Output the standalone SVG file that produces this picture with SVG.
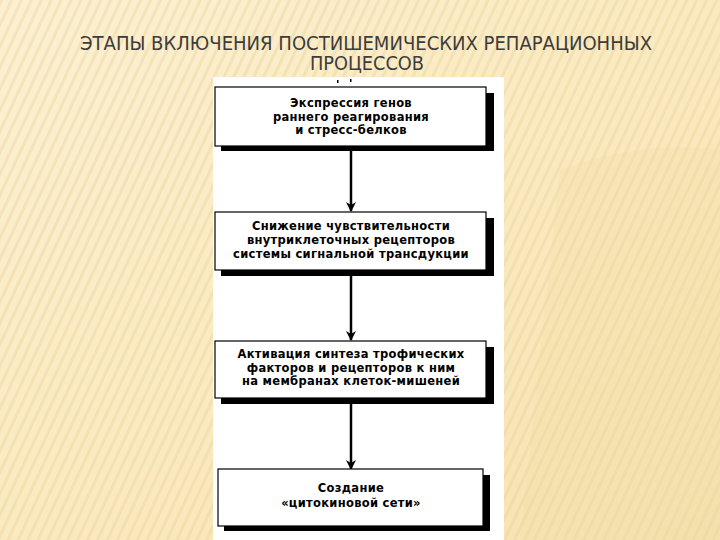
<svg xmlns="http://www.w3.org/2000/svg" width="720" height="540" viewBox="0 0 720 540">
<defs>
<linearGradient id="bg" x1="0" y1="0" x2="1" y2="1">
<stop offset="0" stop-color="#fcf0d2"/>
<stop offset="0.5" stop-color="#faeac0"/>
<stop offset="1" stop-color="#f6e2b0"/>
</linearGradient>
<pattern id="stripes" width="9" height="9" patternUnits="userSpaceOnUse" patternTransform="rotate(25)">
<rect width="9" height="9" fill="none"/>
<rect width="3" height="9" fill="#e8cf95" opacity="0.35"/>
</pattern>
<marker id="ah" viewBox="0 0 10 10" refX="9" refY="5" markerWidth="10" markerHeight="10" markerUnits="userSpaceOnUse" orient="auto">
<path d="M0,0 L10,5 L0,10 L3,5 Z" fill="#000"/>
</marker>
<style>
.box{fill:#fff;stroke:#000;stroke-width:1.2}
.sh{fill:#000}
.t{font-family:"DejaVu Sans","Liberation Sans",sans-serif;font-weight:bold;font-size:11.5px;letter-spacing:0.3px;fill:#000;text-anchor:middle}
.title{font-family:"DejaVu Sans Condensed","DejaVu Sans",sans-serif;font-size:19px;fill:#3c3c3c;text-anchor:middle}
.ar{stroke:#000;stroke-width:2.5;fill:none}
</style>
</defs>
<rect width="720" height="540" fill="url(#bg)"/>
<rect width="720" height="540" fill="url(#stripes)"/>
<path d="M560,170 Q640,140 720,150 L720,540 L520,540 Z" fill="#f0dba0" opacity="0.25"/>
<text class="title" x="366" y="50" textLength="572" lengthAdjust="spacingAndGlyphs">ЭТАПЫ ВКЛЮЧЕНИЯ ПОСТИШЕМИЧЕСКИХ РЕПАРАЦИОННЫХ</text>
<text class="title" x="367" y="70" textLength="114" lengthAdjust="spacingAndGlyphs">ПРОЦЕССОВ</text>
<rect x="213" y="77" width="291" height="463" fill="#fff"/>
<rect x="337" y="80" width="1.5" height="3" fill="#000"/>
<rect x="350" y="79" width="1.5" height="3" fill="#000"/>
<g id="connectors">
<line class="ar" x1="351" y1="150" x2="351" y2="211" marker-end="url(#ah)"/>
<line class="ar" x1="351" y1="274" x2="351" y2="340" marker-end="url(#ah)"/>
<line class="ar" x1="351" y1="402" x2="351" y2="469" marker-end="url(#ah)"/>
</g>
<g id="n1">
<rect class="sh" x="221" y="93" width="273" height="58"/>
<rect class="box" x="215" y="87" width="271" height="59"/>
<text class="t" x="351" y="107">Экспрессия генов</text>
<text class="t" x="351" y="120.5">раннего реагирования</text>
<text class="t" x="351" y="134">и стресс-белков</text>
</g>
<g id="n2">
<rect class="sh" x="221" y="218" width="273" height="58"/>
<rect class="box" x="215" y="212" width="271" height="58"/>
<text class="t" x="351" y="230">Снижение чувствительности</text>
<text class="t" x="351" y="244">внутриклеточных рецепторов</text>
<text class="t" x="351" y="258">системы сигнальной трансдукции</text>
</g>
<g id="n3">
<rect class="sh" x="221" y="347" width="273" height="57"/>
<rect class="box" x="215" y="341" width="271" height="57"/>
<text class="t" x="351" y="358">Активация синтеза трофических</text>
<text class="t" x="351" y="371.5">факторов и рецепторов к ним</text>
<text class="t" x="351" y="385">на мембранах клеток-мишеней</text>
</g>
<g id="n4">
<rect class="sh" x="224" y="475" width="266" height="56"/>
<rect class="box" x="218" y="469" width="265" height="57"/>
<text class="t" x="351" y="492">Создание</text>
<text class="t" x="351" y="507">«цитокиновой сети»</text>
</g>
</svg>
